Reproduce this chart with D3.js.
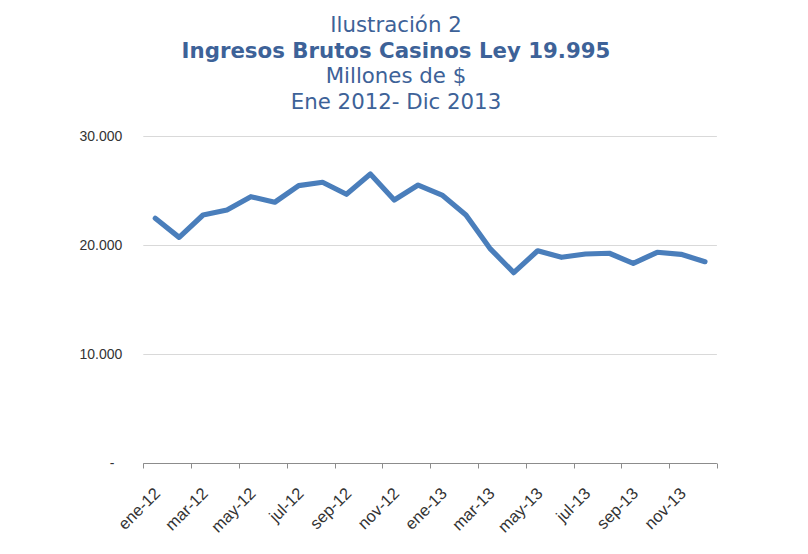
<!DOCTYPE html>
<html>
<head>
<meta charset="utf-8">
<script src="https://cdn.jsdelivr.net/npm/d3@7"></script>
<style>
  body { margin: 0; background: #fff; }
  svg { display: block; }
</style>
</head>
<body>
<script>
// datos: ingresos brutos mensuales (millones de $), ene 2012 - dic 2013
const months = [
  "ene-12", "feb-12", "mar-12", "abr-12", "may-12", "jun-12",
  "jul-12", "ago-12", "sep-12", "oct-12", "nov-12", "dic-12",
  "ene-13", "feb-13", "mar-13", "abr-13", "may-13", "jun-13",
  "jul-13", "ago-13", "sep-13", "oct-13", "nov-13", "dic-13",
];
const ingresos = [
  22480, 20730, 22780, 23240, 24460, 23950,
  25470, 25780, 24680, 26540, 24160, 25530,
  24610, 22780, 19720, 17490, 19500, 18900,
  19200, 19270, 18350, 19360, 19170, 18500,
];
const yTicks = [0, 10000, 20000, 30000];
const titleLines = [
  { text: "Ilustración 2", bold: false },
  { text: "Ingresos Brutos Casinos Ley 19.995", bold: true },
  { text: "Millones de $", bold: false },
  { text: "Ene 2012- Dic 2013", bold: false },
];

const width = 808;
const height = 554;
const plot = { left: 143.3, right: 716.9, top: 136.3, bottom: 463.3 };

const svg = d3
  .select("body")
  .append("svg")
  .attr("width", width)
  .attr("height", height);

svg.append("rect").attr("width", width).attr("height", height).attr("fill", "#fff");

// titulo
svg
  .append("g")
  .selectAll("text")
  .data(titleLines)
  .join("text")
  .attr("x", 396)
  .attr("y", (d, i) => 32 + i * 25.7)
  .attr("text-anchor", "middle")
  .attr("font-family", "'DejaVu Sans', Verdana, sans-serif")
  .attr("font-size", "21.3px")
  .attr("font-weight", (d) => (d.bold ? "bold" : "normal"))
  .attr("fill", "#3d6298")
  .text((d) => d.text);

const x = d3
  .scaleBand()
  .domain(months)
  .range([plot.left, plot.right])
  .paddingInner(0)
  .paddingOuter(0);

const y = d3.scaleLinear().domain([0, 30000]).range([plot.bottom, plot.top]);

// grilla horizontal
svg
  .append("g")
  .selectAll("line")
  .data(yTicks.filter((d) => d > 0))
  .join("line")
  .attr("x1", plot.left)
  .attr("x2", plot.right)
  .attr("y1", (d) => Math.round(y(d)) + 0.5)
  .attr("y2", (d) => Math.round(y(d)) + 0.5)
  .attr("stroke", "#d9d9d9")
  .attr("stroke-width", 1);

// eje y (sin linea)
const yAxis = svg
  .append("g")
  .attr("transform", `translate(${plot.left},0)`)
  .call(
    d3
      .axisLeft(y)
      .tickValues(yTicks)
      .tickSize(0)
      .tickPadding(21)
      .tickFormat((d) => (d === 0 ? "-" : d3.format(",")(d).replace(/,/g, "."))),
  );
yAxis.select(".domain").remove();
yAxis
  .selectAll("text")
  .attr("font-family", "'Liberation Sans', Arial, sans-serif")
  .attr("font-size", "14px")
  .attr("fill", "#333")
  .attr("dx", (d) => (d === 0 ? -8 : 0));

// eje x
const axisY = Math.round(plot.bottom) + 0.5;
const gx = svg.append("g");
gx.append("line")
  .attr("x1", plot.left)
  .attr("x2", plot.right)
  .attr("y1", axisY)
  .attr("y2", axisY)
  .attr("stroke", "#8c8c8c");

const tickPos = months
  .filter((d, i) => i % 2 === 0)
  .map((m) => x(m))
  .concat([plot.right]);
gx.selectAll("line.tick")
  .data(tickPos)
  .join("line")
  .attr("class", "tick")
  .attr("x1", (d) => Math.round(d) + 0.5)
  .attr("x2", (d) => Math.round(d) + 0.5)
  .attr("y1", axisY)
  .attr("y2", axisY + 5)
  .attr("stroke", "#8c8c8c");

gx.selectAll("text")
  .data(months.filter((d, i) => i % 2 === 0))
  .join("text")
  .attr(
    "transform",
    (d) => `translate(${x(d) + x.bandwidth() / 2 + 6},${axisY + 31}) rotate(-45)`,
  )
  .attr("text-anchor", "end")
  .attr("font-family", "'Liberation Sans', Arial, sans-serif")
  .attr("font-size", "16.5px")
  .attr("fill", "#333")
  .text((d) => d);

// serie
const line = d3
  .line()
  .x((d, i) => x(months[i]) + x.bandwidth() / 2)
  .y((d) => y(d));

svg
  .append("path")
  .datum(ingresos)
  .attr("d", line)
  .attr("fill", "none")
  .attr("stroke", "#4a7ebb")
  .attr("stroke-width", 5.2)
  .attr("stroke-linejoin", "round")
  .attr("stroke-linecap", "round");
</script>
</body>
</html>
